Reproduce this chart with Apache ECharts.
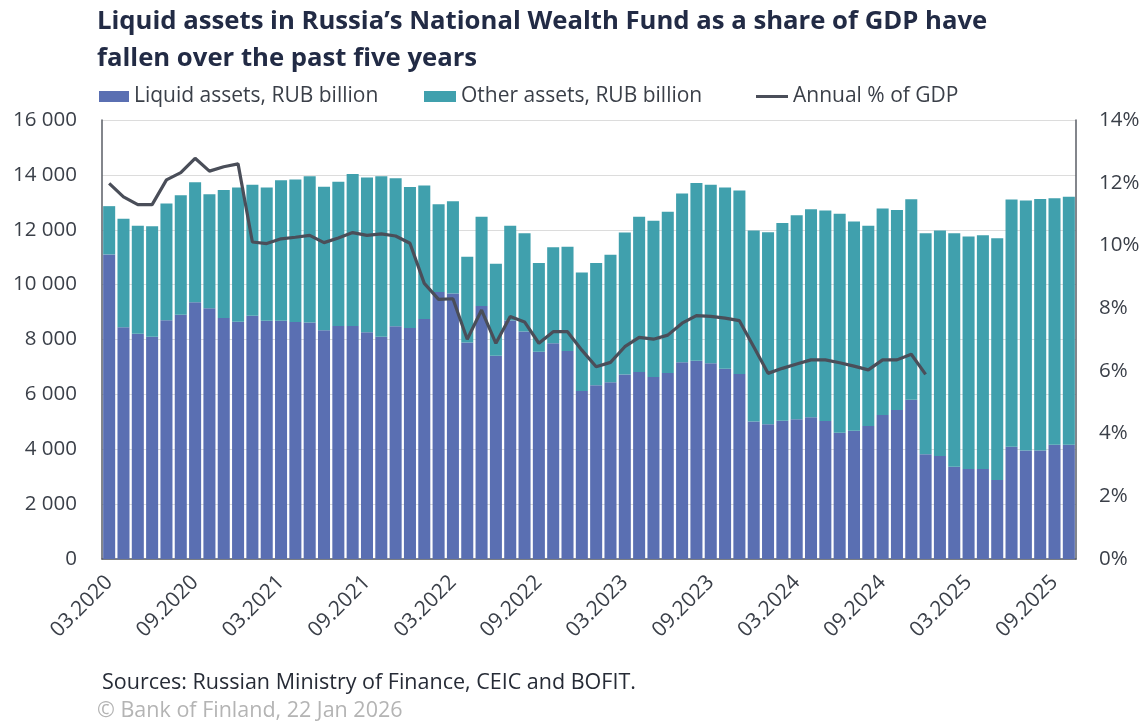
<!DOCTYPE html>
<html>
<head>
<meta charset="utf-8">
<script src="https://cdn.jsdelivr.net/npm/echarts@6/dist/echarts.min.js"></script>
<style>
  html, body { margin: 0; padding: 0; background: #fff; }
  #chart { width: 1146px; height: 724px; }
</style>
</head>
<body>
<div id="chart"></div>
<script>
// monthly, 03.2020 .. 10.2025
const months = [
  '03.2020','04.2020','05.2020','06.2020','07.2020','08.2020','09.2020','10.2020','11.2020','12.2020',
  '01.2021','02.2021','03.2021','04.2021','05.2021','06.2021','07.2021','08.2021','09.2021','10.2021','11.2021','12.2021',
  '01.2022','02.2022','03.2022','04.2022','05.2022','06.2022','07.2022','08.2022','09.2022','10.2022','11.2022','12.2022',
  '01.2023','02.2023','03.2023','04.2023','05.2023','06.2023','07.2023','08.2023','09.2023','10.2023','11.2023','12.2023',
  '01.2024','02.2024','03.2024','04.2024','05.2024','06.2024','07.2024','08.2024','09.2024','10.2024','11.2024','12.2024',
  '01.2025','02.2025','03.2025','04.2025','05.2025','06.2025','07.2025','08.2025','09.2025','10.2025'
];

// RUB billion
const liquidAssets = [
  11100, 8450, 8210, 8100, 8700, 8900, 9360, 9140, 8780, 8650,
  8870, 8680, 8680, 8640, 8620, 8340, 8490, 8490, 8260, 8100,
  8480, 8420, 8750, 9730, 9680, 7890, 9220, 7410, 8690, 8290,
  7550, 7860, 7580, 6120, 6330, 6440, 6720, 6820, 6630, 6780,
  7170, 7230, 7130, 6930, 6740, 5010, 4910, 5040, 5090, 5170,
  5030, 4600, 4670, 4850, 5250, 5430, 5800, 3820, 3750, 3360,
  3280, 3280, 2880, 4090, 3950, 3950, 4160, 4160
];
const otherAssets = [
  1760, 3950, 3940, 4030, 4260, 4360, 4370, 4150, 4670, 4890,
  4770, 4860, 5120, 5190, 5330, 5230, 5260, 5540, 5640, 5850,
  5400, 5140, 4860, 3200, 3360, 3130, 3250, 3350, 3460, 3580,
  3240, 3500, 3800, 4320, 4460, 4650, 5180, 5650, 5700, 5880,
  6150, 6470, 6510, 6610, 6690, 6960, 7000, 7210, 7440, 7580,
  7670, 7980, 7630, 7300, 7520, 7290, 7310, 8050, 8220, 8510,
  8470, 8520, 8810, 9010, 9120, 9170, 8990, 9040
];
// % of GDP, ends 12.2024
const pctOfGdp = [
  11.98, 11.55, 11.30, 11.30, 12.09, 12.32, 12.78, 12.37, 12.51, 12.60,
  10.11, 10.06, 10.21, 10.26, 10.32, 10.09, 10.24, 10.41, 10.32, 10.37,
  10.30, 10.07, 8.79, 8.28, 8.30, 7.01, 7.94, 6.88, 7.73, 7.56,
  6.88, 7.25, 7.25, 6.66, 6.13, 6.27, 6.77, 7.07, 7.01, 7.14,
  7.52, 7.76, 7.74, 7.68, 7.60, 6.77, 5.92, 6.08, 6.22, 6.35,
  6.35, 6.26, 6.15, 6.03, 6.35, 6.35, 6.53, 5.89
];

const FONT = '"Open Sans", Lato, sans-serif';
const TXT = '#3a3f48';
const AXIS = '#5a5e66';

const chart = echarts.init(document.getElementById('chart'));

chart.setOption({
  animation: false,
  textStyle: { fontFamily: FONT },
  title: [
    {
      text: 'Liquid assets in Russia\u2019s National Wealth Fund as a share of GDP have\nfallen over the past five years',
      left: 97, top: 3, padding: 0,
      textStyle: { fontSize: 25.7, fontWeight: 'bold', color: '#222b45', lineHeight: 37, fontFamily: FONT }
    },
    {
      text: 'Sources: Russian Ministry of Finance, CEIC and BOFIT.',
      left: 102, top: 672, padding: 0,
      textStyle: { fontSize: 21.5, fontWeight: 'normal', color: '#262b36', fontFamily: FONT }
    },
    {
      text: '\u00a9 Bank of Finland, 22 Jan 2026',
      left: 97, top: 700, padding: 0,
      textStyle: { fontSize: 21.5, fontWeight: 'normal', color: '#b4b4b4', fontFamily: FONT }
    }
  ],
  legend: [
    {
      data: [{ name: 'Liquid assets, RUB billion', icon: 'rect' }],
      left: 99, top: 86, padding: 0, itemWidth: 30, itemHeight: 11,
      textStyle: { fontSize: 21, color: TXT }
    },
    {
      data: [{ name: 'Other assets, RUB billion', icon: 'rect' }],
      left: 424, top: 86, padding: 0, itemWidth: 32, itemHeight: 11,
      textStyle: { fontSize: 21, color: TXT }
    },
    {
      data: [{ name: 'Annual % of GDP', icon: 'rect' }],
      left: 756, top: 86, padding: 0, itemWidth: 32, itemHeight: 3,
      textStyle: { fontSize: 21, color: TXT }
    }
  ],
  grid: { left: 102, right: 70, top: 120, bottom: 165 },
  xAxis: {
    type: 'category',
    data: months,
    axisLine: { lineStyle: { color: AXIS, width: 1.5 } },
    axisTick: { interval: 5, length: 6, lineStyle: { color: AXIS } },
    axisLabel: {
      interval: 5, rotate: 45, margin: 20,
      fontSize: 21, color: TXT
    }
  },
  yAxis: [
    {
      type: 'value', min: 0, max: 16000, interval: 2000,
      axisLine: { show: true, lineStyle: { color: AXIS, width: 1.5 } },
      axisTick: { show: false },
      splitLine: { lineStyle: { color: '#dcdcdc' } },
      axisLabel: {
        fontSize: 20.5, color: TXT, margin: 25,
        formatter: (v) => String(v).replace(/\B(?=(\d{3})+(?!\d))/g, ' ')
      }
    },
    {
      type: 'value', min: 0, max: 14, interval: 2,
      axisLine: { show: true, lineStyle: { color: AXIS, width: 1.5 } },
      axisTick: { show: false },
      splitLine: { show: false },
      axisLabel: { fontSize: 20.5, color: TXT, margin: 23, formatter: '{value}%' }
    }
  ],
  series: [
    {
      name: 'Liquid assets, RUB billion',
      type: 'bar', stack: 'nwf',
      data: liquidAssets,
      barCategoryGap: '16%',
      itemStyle: { color: '#5a6fb2' }
    },
    {
      name: 'Other assets, RUB billion',
      type: 'bar', stack: 'nwf',
      data: otherAssets,
      barCategoryGap: '16%',
      itemStyle: { color: '#40a0ad' }
    },
    {
      name: 'Annual % of GDP',
      type: 'line', yAxisIndex: 1,
      data: pctOfGdp,
      symbol: 'none',
      z: 5,
      itemStyle: { color: '#4a4e59' },
      lineStyle: { color: '#4a4e59', width: 3.2 }
    }
  ]
});
</script>
</body>
</html>
